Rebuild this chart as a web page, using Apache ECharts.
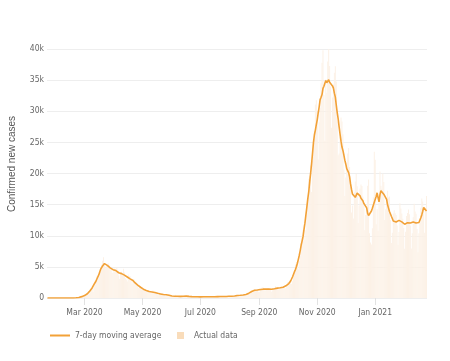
<!DOCTYPE html>
<html>
<head>
<meta charset="utf-8">
<script src="https://cdn.jsdelivr.net/npm/echarts@6/dist/echarts.min.js"></script>
<style>
html,body{margin:0;padding:0;background:#fff;}
#chart{width:450px;height:361px;}
</style>
</head>
<body>
<div id="chart"></div>
<script>
// Daily confirmed new cases, starting 2020-01-22
const startDate = [2020, 0, 22];
const jan2020 = [0,0,0,0,0,0,0,0,0,2];
const feb2020 = [0,0,0,0,0,1,0,0,0,0,0,0,0,0,0,0,0,0,0,0,17,59,76,69,93,78,250,238,240];
const mar2020 = [566,342,466,587,769,778,1247,1492,1797,977,2313,2651,2547,3497,3590,3233,3526,4207,5322,5986,6557,5560,4789,5249,5210,5600,5300,5000,4700,4050,4053];
const apr2020 = [4782,4668,4585,4805,4316,3599,3039,3836,4204,3951,4694,4092,3153,2972,2667,3786,3493,3491,3047,2256,2729,3000,2400,2700,2100,2000,1600,1900,1800,1700];
const may2020 = [1600,1500,1200,1100,1000,1300,1250,1200,1000,800,744,1200,888,992,789,875,675,451,813,665,642,652,669,531,300,397,584,593,516,416,355];
const jun2020 = [178,318,321,177,518,270,197,280,283,202,379,163,346,338,301,210,329,333,251,262,224,218,122,190,296,259,175,174,126,142];
const jul2020 = [187,201,223,235,192,208,138,193,229,276,188,234,169,114,163,230,233,249,219,190,129,280,306,252,275,255,170,181,202,289,386];
const aug2020 = [379,295,239,159,190,384,402,552,347,463,259,412,481,523,574,629,479,320,403,642,845,947,1071,1210,878,953,1367,1411,1460,1444,996];
const sep2020 = [975,1326,1397,1733,1694,1297,1108,1370,1434,1597,1616,1501,1458,1008,1229,1452,1585,1907,1638,1587,1350,1392,1640,1786,1912,1869,1766,1494,1648,1851];
const oct2020 = [2548,2499,2844,2578,2257,2677,3678,4458,5372,5724,5456,4619,5901,7332,8804,10010,10925,11705,9338,10874,15199,16079,19143,19644,21273,17012,21994,24991,26831,31084,31758];
const nov2020 = [29907,22253,28244,30550,34505,37809,39811,32616,25271,35098,32961,37978,40902,37255,33979,27354,32191,34283,36176,37242,34767,28337,22930,23232,25853,29003,28352,26323,20648,16377];
const dec2020 = [19350,20709,23225,24099,21052,18887,13720,14842,12756,16999,18727,19903,17938,12030,14844,17572,18236,17992,16308,15104,10872,13318,14522,18040,19037,10407,8913,8585,11212,16202,23477];
const jan2021 = [22211,11831,14245,10800,15378,20331,18020,17533,19978,18627,12532,14242,15774,17246,16146,16310,12545,8824,10497,13571,14078,13633,13331,11629,8561,10593,15204,14372,13574,12715,11252];
const feb2021 = [7925,10630,13189,13659,14218,13442,11641,7970,10404,12956,15146,13908,13532,11068,7351,10386,12074,14500,16000,15500,14500,10500,14500,16400];

const tickDates = ['2020-03-01','2020-05-01','2020-07-01','2020-09-01','2020-11-01','2021-01-01'];
const tickLabels = ['Mar 2020','May 2020','Jul 2020','Sep 2020','Nov 2020','Jan 2021'];
const yTickValues = [0,5000,10000,15000,20000,25000,30000,35000,40000];
const yTickLabels = ['0','5k','10k','15k','20k','25k','30k','35k','40k'];

const dailyCases = [].concat(jan2020,feb2020,mar2020,apr2020,may2020,jun2020,jul2020,aug2020,sep2020,oct2020,nov2020,dec2020,jan2021,feb2021);

const categories = dailyCases.map((_, i) => {
  const d = new Date(Date.UTC(startDate[0], startDate[1], startDate[2] + i));
  return d.toISOString().slice(0, 10);
});

// centered 7-day moving average
const movingAvg = dailyCases.map((_, i) => {
  let s = 0, n = 0;
  for (let k = i - 3; k <= i + 3; k++) {
    if (k >= 0 && k < dailyCases.length) { s += dailyCases[k]; n++; }
  }
  return Math.round(s / n);
});

const labelMap = {};
tickDates.forEach((d, i) => { labelMap[d] = tickLabels[i]; });
const isTick = (idx, val) => labelMap.hasOwnProperty(val);

const FONT = "'DejaVu Sans Condensed', 'DejaVu Sans', sans-serif";
const LINE_COLOR = '#f2a137';

const chart = echarts.init(document.getElementById('chart'), null, {renderer: 'canvas'});
chart.setOption({
  animation: false,
  backgroundColor: '#fff',
  grid: {left: 47, right: 23, top: 49, bottom: 63},
  xAxis: {
    type: 'category',
    data: categories,
    boundaryGap: true,
    axisLine: {show: false},
    axisTick: {show: true, alignWithLabel: true, interval: isTick, length: 7, lineStyle: {color: '#e2e2e2'}},
    axisLabel: {interval: isTick, formatter: v => labelMap[v] || '', color: '#666', fontSize: 8.5, fontFamily: FONT, margin: 10},
    splitLine: {show: false}
  },
  yAxis: {
    type: 'value',
    min: 0, max: 40000, interval: 5000,
    axisLine: {show: false},
    axisTick: {show: false},
    splitLine: {lineStyle: {color: '#eeeeee', width: 1}},
    axisLabel: {
      color: '#666', fontSize: 8.5, fontFamily: FONT, margin: 3,
      formatter: v => { const i = yTickValues.indexOf(v); return i >= 0 ? yTickLabels[i] : ''; }
    }
  },
  legend: [
    {
      left: 45, top: 326, itemWidth: 20, itemHeight: 2, padding: 5,
      data: [{name: '7-day moving average', icon: 'rect', itemStyle: {color: LINE_COLOR}}],
      textStyle: {color: '#666', fontSize: 8.5, fontFamily: FONT}
    },
    {
      left: 172, top: 326, itemWidth: 7, itemHeight: 7, padding: 5,
      data: [{name: 'Actual data', icon: 'rect', itemStyle: {color: '#f9dcba', opacity: 1}}],
      textStyle: {color: '#666', fontSize: 8.5, fontFamily: FONT, padding: [0, 0, 0, 5]}
    }
  ],
  graphic: [{
    type: 'text', x: 12, y: 164, rotation: Math.PI / 2,
    style: {text: 'Confirmed new cases', fill: '#555', fontSize: 10, fontFamily: "'Liberation Sans', Arial, sans-serif", align: 'center', verticalAlign: 'middle'}
  }],
  series: [
    {
      name: 'Actual data',
      type: 'bar',
      data: dailyCases,
      barCategoryGap: '10%',
      itemStyle: {color: '#fcf1e6'},
      z: 1
    },
    {
      name: '7-day moving average',
      type: 'line',
      data: movingAvg,
      symbol: 'none',
      showSymbol: false,
      lineStyle: {color: LINE_COLOR, width: 1.6},
      itemStyle: {color: LINE_COLOR},
      z: 3
    }
  ]
});
</script>
</body>
</html>
